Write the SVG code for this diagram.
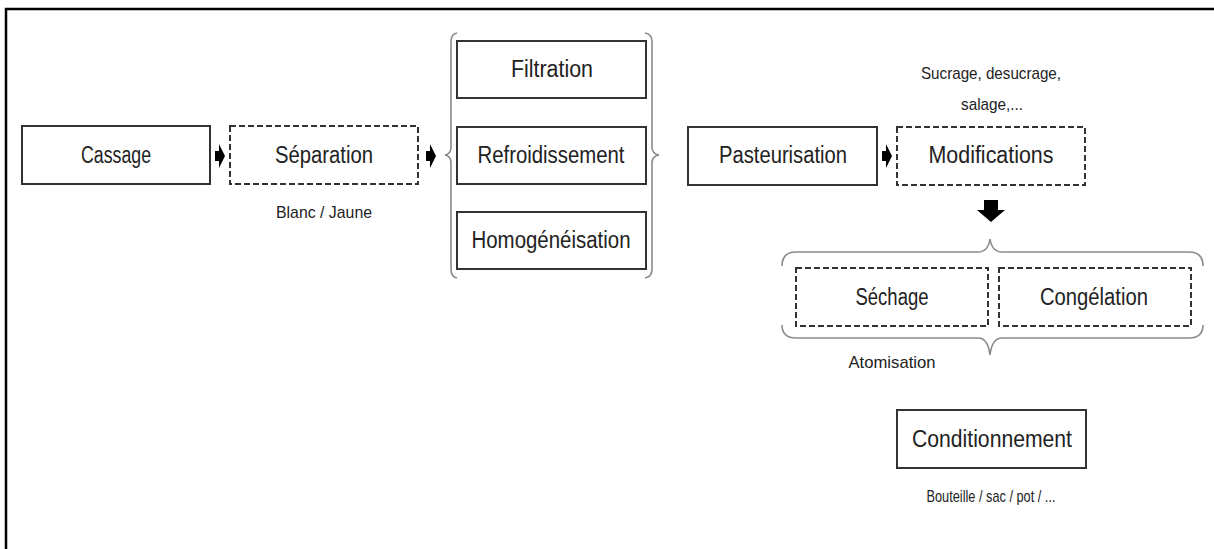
<svg xmlns="http://www.w3.org/2000/svg" width="1214" height="549" viewBox="0 0 1214 549">
<defs>
<style>
.box{fill:#fff;stroke:#333;stroke-width:2}
.dash{fill:#fff;stroke:#333;stroke-width:2;stroke-dasharray:6 3}
.brace{fill:none;stroke:#8a8a8a;stroke-width:1.6}
.t{font-family:"Liberation Sans",Arial,sans-serif;font-size:23px;fill:#222;text-anchor:middle}
.s{font-family:"Liberation Sans",Arial,sans-serif;font-size:17px;fill:#222;text-anchor:middle}
.arr{fill:#000}
</style>
<path id="ra" d="M-5,-5 H-1 V-12 L5,0 L-1,12 V5 H-5 Z"/>
</defs>
<rect width="1214" height="549" fill="#fff"/>
<path d="M6,549 V9 H1214" fill="none" stroke="#000" stroke-width="2.5"/>

<g id="connectors">
<use href="#ra" class="arr" x="220" y="156"/>
<use href="#ra" class="arr" x="431" y="156"/>
<use href="#ra" class="arr" x="887" y="156"/>
<path class="arr" d="M984,200 H998 V210 H1005 L991,222 L977,210 H984 Z"/>
<path class="brace" d="M457,33 Q451,34 451,42 V147 Q451,154 445,155 Q451,156 451,163 V269 Q451,277 457,278"/>
<path class="brace" d="M645,33 Q652,34 652,42 V147 Q652,154 659,155 Q652,156 652,163 V269 Q652,277 645,278"/>
<path class="brace" d="M782,266 Q782,252 796,252 H978 Q988,252 990,239 Q992,252 1002,252 H1189 Q1203,252 1203,266"/>
<path class="brace" d="M782,325 Q782,338 796,338 H978 Q988,338 990,355 Q992,338 1002,338 H1189 Q1203,338 1203,325"/>
</g>

<g id="cassage"><rect class="box" x="22" y="126" width="188" height="58"/><text class="t" x="116" y="163" textLength="70" lengthAdjust="spacingAndGlyphs">Cassage</text></g>
<g id="separation"><rect class="dash" x="230" y="126" width="188" height="58"/><text class="t" x="324" y="163" textLength="98" lengthAdjust="spacingAndGlyphs">Séparation</text><text class="s" x="324" y="218" textLength="96" lengthAdjust="spacingAndGlyphs">Blanc / Jaune</text></g>
<g id="filtration"><rect class="box" x="457" y="41" width="189" height="57"/><text class="t" x="552" y="77" textLength="82" lengthAdjust="spacingAndGlyphs">Filtration</text></g>
<g id="refroidissement"><rect class="box" x="457" y="127" width="189" height="57"/><text class="t" x="551" y="163" textLength="147" lengthAdjust="spacingAndGlyphs">Refroidissement</text></g>
<g id="homogeneisation"><rect class="box" x="457" y="212" width="189" height="57"/><text class="t" x="551" y="248" textLength="159" lengthAdjust="spacingAndGlyphs">Homogénéisation</text></g>
<g id="pasteurisation"><rect class="box" x="688" y="127" width="189" height="58"/><text class="t" x="783" y="163" textLength="128" lengthAdjust="spacingAndGlyphs">Pasteurisation</text></g>
<g id="modifications"><rect class="dash" x="897" y="127" width="188" height="58"/><text class="t" x="991" y="163" textLength="125" lengthAdjust="spacingAndGlyphs">Modifications</text><text class="s" x="991" y="79" textLength="140" lengthAdjust="spacingAndGlyphs">Sucrage, desucrage,</text><text class="s" x="992" y="110" textLength="62" lengthAdjust="spacingAndGlyphs">salage,...</text></g>
<g id="sechage"><rect class="dash" x="796" y="268" width="192" height="58"/><text class="t" x="892" y="305" textLength="73" lengthAdjust="spacingAndGlyphs">Séchage</text><text class="s" x="892" y="368" textLength="87" lengthAdjust="spacingAndGlyphs">Atomisation</text></g>
<g id="congelation"><rect class="dash" x="999" y="268" width="192" height="58"/><text class="t" x="1094" y="305" textLength="108" lengthAdjust="spacingAndGlyphs">Congélation</text></g>
<g id="conditionnement"><rect class="box" x="897" y="410" width="189" height="58"/><text class="t" x="992" y="447" textLength="160" lengthAdjust="spacingAndGlyphs">Conditionnement</text><text class="s" x="991" y="502" textLength="129" lengthAdjust="spacingAndGlyphs">Bouteille / sac / pot / ...</text></g>
</svg>
